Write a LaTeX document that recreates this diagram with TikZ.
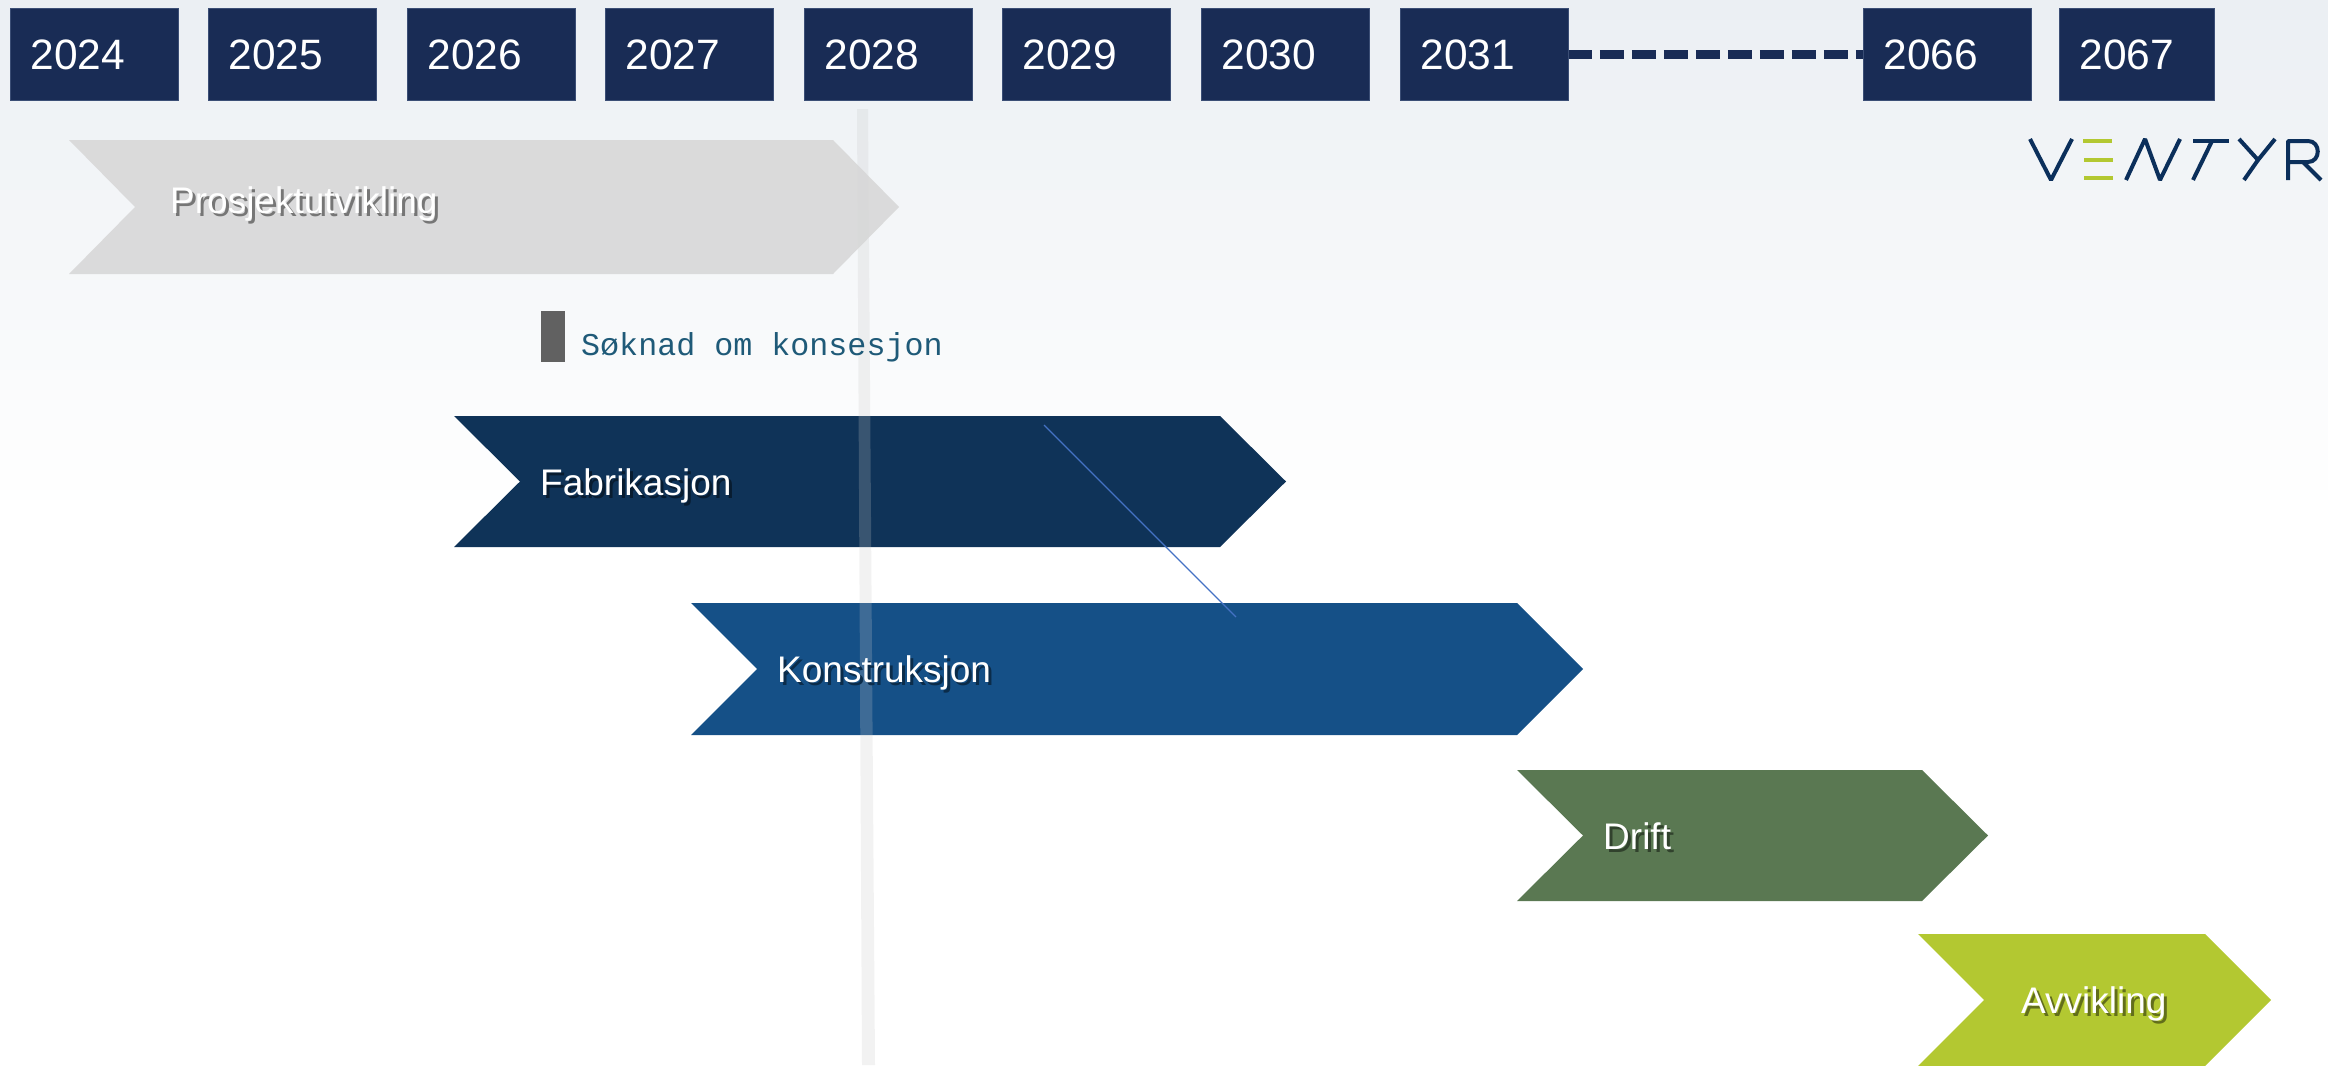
\documentclass[tikz,border=0pt]{standalone}
\usepackage{fontspec}
\setmainfont{Liberation Sans}
\newfontfamily\typewriter{Liberation Mono}
\definecolor{navy}{HTML}{192C55}
\definecolor{navyline}{HTML}{3B4E75}
\definecolor{bgtop}{HTML}{EBEFF3}
\definecolor{greyphase}{HTML}{D6D6D6}
\definecolor{fabblue}{HTML}{0F3358}
\definecolor{konblue}{HTML}{155087}
\definecolor{driftgreen}{HTML}{5A7852}
\definecolor{lime}{HTML}{B3C831}
\definecolor{logoblue}{HTML}{0B2F5B}
\newcommand{\shadowed}[2]{\rlap{\kern3pt\raisebox{-3pt}{\textcolor{#1!55!black}{#2}}}#2}
\newcommand{\chevron}[5]{\fill[#5] (#1,#3) -- (#2,#3) -- (#2+66,{(#3+#4)/2}) -- (#2,#4) -- (#1,#4) -- (#1+66,{(#3+#4)/2}) -- cycle;}

\begin{document}
\begin{tikzpicture}[x=1pt, y=-1pt,
	year/.style={fill=navy, draw=navyline, line width=0.8pt, text=white, anchor=north west, minimum width=168pt, minimum height=92pt, inner xsep=20pt, text width=128pt, text depth=0pt, align=left, font=\fontsize{42.5}{50}\selectfont},
	phase label/.style={text=white, anchor=base west, inner sep=0pt, font=\fontsize{37}{44}\selectfont},
	logo/.style={logoblue, line width=4pt, line join=bevel},
	logo bar/.style={lime, line width=4.8pt}]
	\useasboundingbox (0,0) rectangle (2328,1065);
	\foreach \i [evaluate=\i as \pct using 100-2*\i] in {0,...,49}{
		\fill[bgtop!\pct!white] (0,10*\i) rectangle (2328,500);
	}
	\foreach \yr/\x in {2024/10,2025/208,2026/407,2027/605,2028/804,2029/1002,2030/1201,2031/1400,2066/1863}{
		\node[year] (y\yr) at (\x,8) {\yr};
	}
	\node[year, minimum width=155pt, text width=115pt] (y2067) at (2059,8) {2067};
	\draw[navy, line width=8.5pt, dash pattern=on 24pt off 8pt, dash phase=1pt] (y2031) -- (y2066);
	\foreach \xl/\xs/\yt/\yb/\col in {454/1220/416/547/fabblue,691/1517/603/735/konblue,1517/1922/770/901/driftgreen,1918/2205/934/1066/lime}{
		\chevron{\xl}{\xs}{\yt}{\yb}{\col}
	}
	\fill[gray!43, opacity=0.23] (857,109) -- (868,109) -- (875,1065) -- (862,1065) -- cycle;
	\chevron{69}{833}{140}{274}{greyphase, opacity=0.85}
	\foreach \name/\x/\y/\col/\txt in {prosjekt/170/213/greyphase/Prosjektutvikling,fab/540/495/fabblue/Fabrikasjon,kon/777/682/konblue/Konstruksjon,drift/1603/849/driftgreen/Drift,avv/2021/1013/lime/Avvikling}{
		\node[phase label] (\name) at (\x,\y) {\shadowed{\col}{\txt}};
	}
	\coordinate (linestart) at (1044,425);
	\coordinate (lineend) at (1236,617);
	\draw[color={rgb,255:red,68;green,114;blue,196}, line width=1.2pt] (linestart) -- (lineend);
	\node[fill=black!62, inner sep=0pt, minimum width=24pt, minimum height=51pt, anchor=north west] (mark) at (541,311) {};
	\node[anchor=base west, inner sep=0pt, text={rgb,255:red,31;green,90;blue,120}, font=\typewriter\fontsize{31.7}{38}\selectfont] (soknad) at (581,355) {Søknad om konsesjon};
	% logo
	\draw[logo] (2030,139) -- (2051,180) -- (2072,139);
	\draw[logo bar] (2083,141) -- (2112,141);
	\draw[logo bar] (2084,160) -- (2113,160);
	\draw[logo bar] (2084,178) -- (2113,178);
	\draw[logo] (2126,180) -- (2145,139) -- (2160,180) -- (2180,139);
	\draw[logo] (2193,141) -- (2229,141);
	\draw[logo] (2212,141) -- (2193,180);
	\draw[logo] (2239,139) -- (2258,160) -- (2275,139);
	\draw[logo] (2258,160) -- (2244,180);
	\draw[logo] (2288,180) -- (2288,141) -- (2308,141) .. controls (2321,141) and (2321,162) .. (2308,162) -- (2288,162);
	\draw[logo] (2303,162) -- (2321,180);
\end{tikzpicture}
\end{document}
